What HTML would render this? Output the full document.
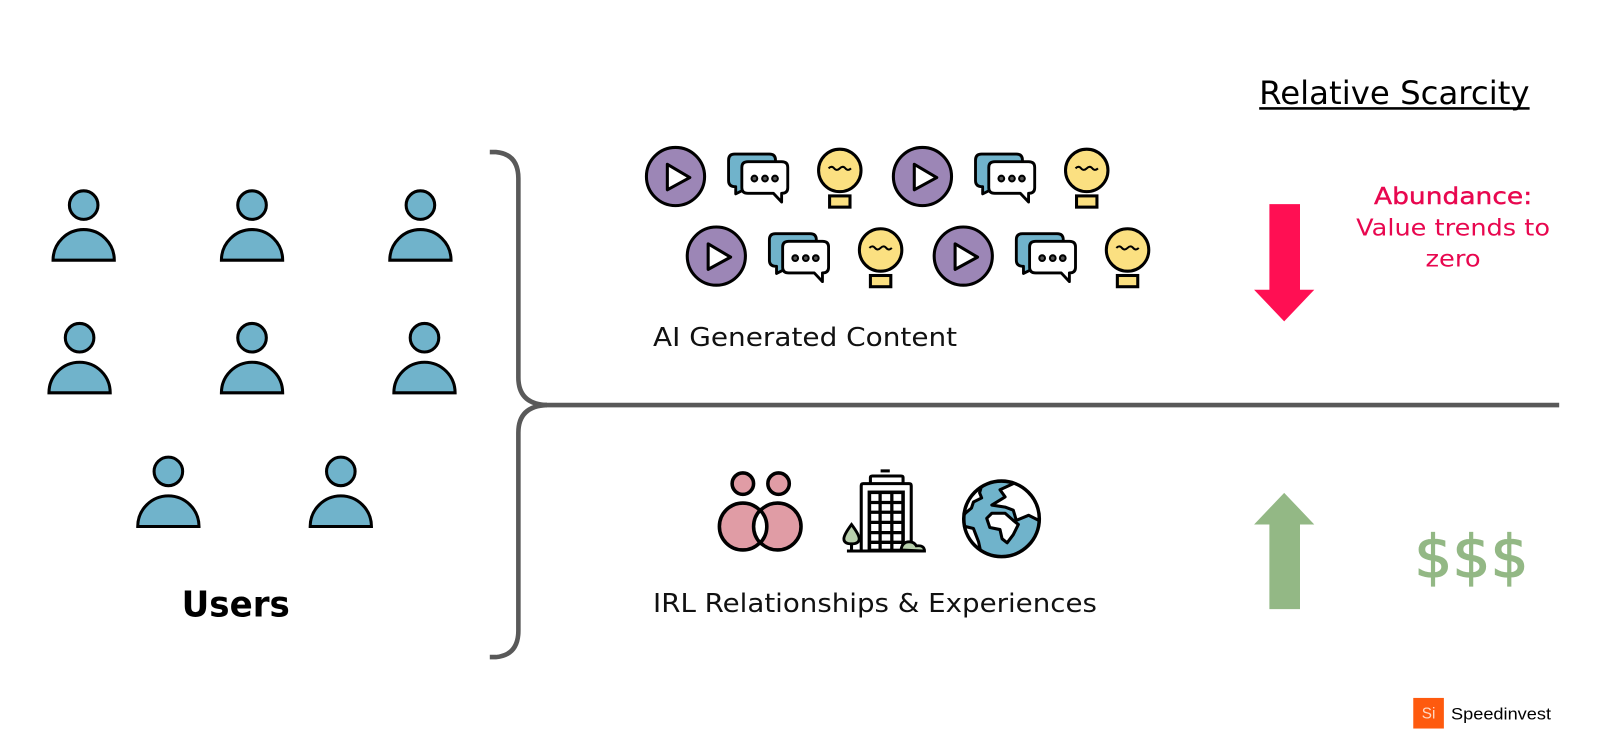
<!DOCTYPE html>
<html><head><meta charset="utf-8"><style>
html,body{margin:0;padding:0;background:#fff;width:1600px;height:752px;overflow:hidden}
svg{display:block}
text{font-family:"DejaVu Sans","Liberation Sans",sans-serif}
</style></head><body>
<svg width="1600" height="752" viewBox="0 0 1568 737" preserveAspectRatio="none" xmlns="http://www.w3.org/2000/svg">
<defs>
<clipPath id="gc"><circle cx="981.500" cy="508.500" r="37"/></clipPath>
<g id="person" stroke="#000" stroke-width="3" fill="#70b3cb">
<circle cx="0" cy="0" r="14"/>
<path d="M-30 54 A30 30 0 0 1 30 54 Z"/>
</g>
<g id="play" stroke="#000" stroke-width="3" stroke-linejoin="round">
<circle cx="0" cy="0" r="28.500" fill="#9c86b6"/>
<path d="M-8 -12 L14 1 L-8 13 Z" fill="#fff"/>
</g>
<g id="chat" stroke="#000" stroke-width="2.800" stroke-linejoin="round">
<path d="M6 0 H40 Q46 0 46 6 V34 H17 L7 39 L7 32 Q0 32 0 26 V6 Q0 0 6 0Z" fill="#70b3cb"/>
<path d="M19 7.500 H52 Q58 7.500 58 13 V33 Q58 38.500 52 38.500 L52 47 L44 38.500 H19 Q13 38.500 13 33 V13 Q13 7.500 19 7.500Z" fill="#fff"/>
<g stroke-width="2"><circle cx="25.300" cy="24" r="2.800" fill="#555"/><circle cx="35.700" cy="24" r="2.800" fill="#555"/><circle cx="45.500" cy="24" r="2.800" fill="#555"/></g>
</g>
<g id="bulb" stroke="#000" stroke-width="3">
<circle cx="0" cy="0" r="20.800" fill="#fbe081"/>
<rect x="-10" y="25" width="20" height="11" fill="#fbe081"/>
<path d="M-11 -2 q3 -3 5.500 0 t5.500 0 t5.500 0 t5.500 0" fill="none" stroke-width="2"/>
</g>
<g id="set"><use href="#play" x="0" y="0"/><use href="#chat" x="52" y="-22"/><use href="#bulb" x="161" y="-6"/></g>
</defs>

<use href="#person" x="82" y="201"/><use href="#person" x="247" y="201"/><use href="#person" x="412" y="201"/>
<use href="#person" x="78" y="331"/><use href="#person" x="247" y="331"/><use href="#person" x="416" y="331"/>
<use href="#person" x="165" y="462"/><use href="#person" x="334" y="462"/>
<text x="178" y="604" font-size="35" font-weight="700" textLength="106" lengthAdjust="spacingAndGlyphs" fill="#000">Users</text>

<g fill="none" stroke="#595959" stroke-width="4.500">
<path d="M480 149 H486 Q508 151 508 175 V370 Q508 396 536 397"/>
<path d="M480 644 H486 Q508 642 508 618 V424 Q508 398 536 397"/>
<path d="M530 397 H1528"/>
</g>

<use href="#set" x="662" y="173"/><use href="#set" x="904" y="173"/>
<use href="#set" x="702" y="251"/><use href="#set" x="944" y="251"/>
<text x="640" y="339" font-size="25" textLength="298" lengthAdjust="spacingAndGlyphs" fill="#111">AI Generated Content</text>

<g stroke="#000" stroke-width="3.500">
<circle cx="728" cy="474" r="10.500" fill="#e09ca5"/><circle cx="763" cy="474" r="10.500" fill="#e09ca5"/>
<circle cx="728" cy="516" r="23" fill="#e09ca5"/><circle cx="762" cy="516" r="23" fill="#e09ca5"/>
<path d="M745 500 A23 23 0 0 1 745 532 A23 23 0 0 1 745 500Z" fill="#fff"/>
</g>

<g fill="none" stroke="#000" stroke-width="3">
<path d="M863 461.500 H872" />
<path d="M844 540 V476 Q844 474 846 474 H891 Q893 474 893 476 V532"/>
<path d="M853 474 V468 Q853 466.500 855 466.500 H883 Q885 466.500 885 468 V474"/>
<rect x="852" y="482.500" width="33" height="57" stroke-width="3.500"/>
<path d="M862.500 482 V540 M874 482 V540 M852 492.500 H885 M852 502 H885 M852 512 H885 M852 522 H885 M852 531.500 H885" stroke-width="3.200"/>
<path d="M830 540 H906"/>
<path d="M834.500 514 Q842 524 842 528 Q842 533 834.500 533 Q827 533 827 528 Q827 524 834.500 514Z" fill="#b9d0ad" stroke-width="2.800"/>
<path d="M834.500 533 V540" />
<path d="M883 539 Q884 531 891 531 Q896 531 898 535 Q906 534 906 540Z" fill="#b9d0ad" stroke-width="2.800"/>
</g>

<circle cx="981.500" cy="508.500" r="37" fill="#70b3cb"/>
<g clip-path="url(#gc)" fill="#fff" stroke="#000" stroke-width="3" stroke-linejoin="round">
<path d="M962 476 L958 480 L940 495 L942 508 L946 503 L952 498 L954 492 L962 488 L960 483Z"/>
<path d="M940 516 L946 516 L954 518 L959 531 L962 545 L940 545Z"/>
<path d="M996 465 L993 474 L980 480 L985 487 L972 495 L985 497 L993 500 L996 510 L1008 505 L1018 510 L1030 504 L1030 465Z"/>
<path d="M967 508 L972 503 L985 503 L993 510 L998 514 L993 524 L987 532 L982 528 L980 519 L970 517Z"/>
</g>
<circle cx="981.500" cy="508.500" r="37" fill="none" stroke="#000" stroke-width="3.500"/>

<text x="1234" y="102" font-size="31" textLength="265" lengthAdjust="spacingAndGlyphs" fill="#000">Relative Scarcity</text>
<rect x="1234" y="105" width="265" height="2.500" fill="#000"/>

<path d="M1244 200 H1274 V284 H1288 L1258.500 315 L1229 284 H1244 Z" fill="#ff0f53"/>
<text x="1424" y="200" font-size="23" text-anchor="middle" textLength="155" lengthAdjust="spacingAndGlyphs" fill="#e8074f" stroke="#e8074f" stroke-width=".4">Abundance:</text>
<text x="1424" y="231" font-size="23" text-anchor="middle" textLength="190" lengthAdjust="spacingAndGlyphs" fill="#e8074f">Value trends to</text>
<text x="1424" y="261" font-size="23" text-anchor="middle" textLength="54" lengthAdjust="spacingAndGlyphs" fill="#e8074f">zero</text>

<path d="M1244 597 H1274 V514 H1288 L1258.500 483 L1229 514 H1244 Z" fill="#93b885"/>
<text x="640" y="600" font-size="25" textLength="435" lengthAdjust="spacingAndGlyphs" fill="#111">IRL Relationships &amp; Experiences</text>
<text x="1386" y="566" font-size="58" textLength="112" lengthAdjust="spacingAndGlyphs" fill="#93b885" stroke="#93b885" stroke-width="1.200">$$$</text>

<rect x="1385" y="684" width="30" height="30" fill="#fe5a0e"/>
<text x="1400" y="704" font-size="15" text-anchor="middle" fill="#ffd9c2" style='font-family:"Liberation Sans",sans-serif'>Si</text>
<text x="1422" y="705" font-size="16" textLength="98" lengthAdjust="spacingAndGlyphs" fill="#000" style='font-family:"Liberation Sans",sans-serif'>Speedinvest</text>
</svg>
</body></html>
